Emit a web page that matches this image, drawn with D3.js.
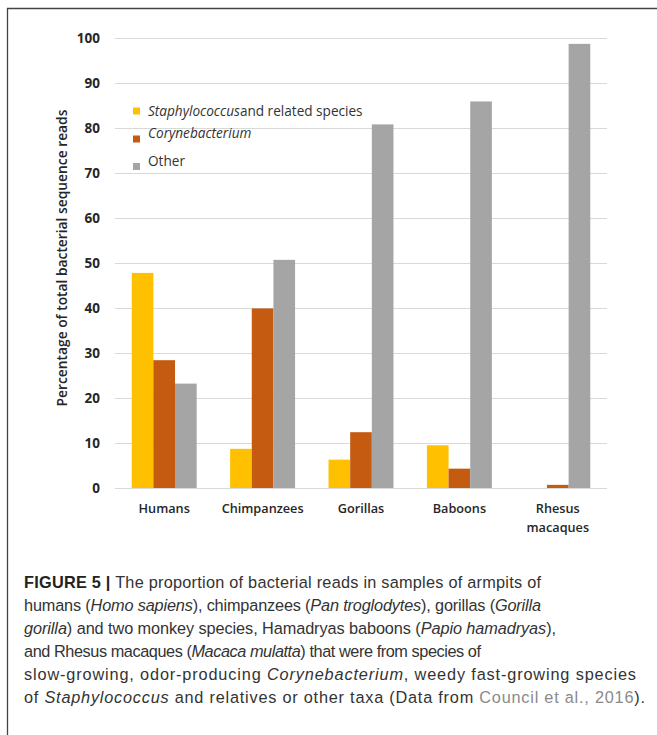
<!DOCTYPE html>
<html>
<head>
<meta charset="utf-8">
<script src="https://cdn.jsdelivr.net/npm/d3@7"></script>
<style>
  html, body { margin: 0; padding: 0; background: #fff; }
  svg { display: block; }
</style>
</head>
<body>
<svg id="chart" width="657" height="735"></svg>
<script>
// ---- data ----
const categories = ["Humans", "Chimpanzees", "Gorillas", "Baboons", "Rhesus macaques"];
const seriesNames = ["Staphylococcus", "Corynebacterium", "Other"];
const staphylococcus = [47.8, 8.7, 6.3, 9.5, 0];
const corynebacterium = [28.4, 39.9, 12.4, 4.3, 0.7];
const other = [23.2, 50.7, 80.8, 85.9, 98.7];
const yTicks = [0, 10, 20, 30, 40, 50, 60, 70, 80, 90, 100];
const colors = ["#FFC000", "#C55A11", "#A5A5A5"];

const seriesValues = [staphylococcus, corynebacterium, other];

const svg = d3.select("#chart");

// frame
svg.append("line").attr("x1", 7.5).attr("x2", 7.5).attr("y1", 8).attr("y2", 735)
  .attr("stroke", "#444").attr("stroke-width", 1.3);
svg.append("line").attr("x1", 7).attr("x2", 657).attr("y1", 8.5).attr("y2", 8.5)
  .attr("stroke", "#444").attr("stroke-width", 1.3);

const x = d3.scaleBand().domain(categories).range([115, 607])
  .paddingInner(0.34).paddingOuter(0.17);
const xs = d3.scaleBand().domain(seriesNames).range([0, x.bandwidth()]);
const y = d3.scaleLinear().domain([0, 100]).range([488, 38]);

// gridlines
svg.append("g").selectAll("line").data(yTicks).join("line")
  .attr("x1", 115).attr("x2", 607)
  .attr("y1", d => y(d) + 0.5).attr("y2", d => y(d) + 0.5)
  .attr("stroke", "#D9D9D9").attr("stroke-width", 1.2);

// y axis labels
const yAxis = d3.axisLeft(y).tickValues(yTicks).tickSize(0).tickPadding(0);
const ya = svg.append("g").attr("transform", "translate(100,0)").call(yAxis);
ya.select(".domain").remove();
ya.selectAll("text").attr("font-family", "'Open Sans', sans-serif")
  .attr("font-size", 13.5).attr("font-weight", 700).attr("fill", "#262626");

// y title
svg.append("text")
  .attr("transform", "translate(67,258) rotate(-90)")
  .attr("text-anchor", "middle")
  .attr("font-family", "'Open Sans', sans-serif")
  .attr("font-size", 13.8).attr("font-weight", 600).attr("fill", "#262626")
  .text("Percentage of total bacterial sequence reads");

// bars
const groups = svg.append("g").selectAll("g").data(categories).join("g")
  .attr("transform", d => `translate(${x(d)},0)`);
groups.selectAll("rect")
  .data((c, i) => seriesNames.map((s, j) => ({ s, j, v: seriesValues[j][i] })))
  .join("rect")
  .attr("x", d => xs(d.s))
  .attr("width", xs.bandwidth())
  .attr("y", d => y(d.v))
  .attr("height", d => y(0) - y(d.v))
  .attr("fill", d => colors[d.j]);

// x labels
const xl = svg.append("g").selectAll("text").data(categories).join("text")
  .attr("x", d => x(d) + x.bandwidth() / 2)
  .attr("y", 512.5)
  .attr("text-anchor", "middle")
  .attr("font-family", "'Open Sans', sans-serif")
  .attr("font-size", 12.7).attr("font-weight", 600).attr("fill", "#262626");
xl.each(function(d) {
  const parts = d === "Rhesus macaques" ? ["Rhesus", "macaques"] : [d];
  d3.select(this).selectAll("tspan").data(parts).join("tspan")
    .attr("x", x(d) + x.bandwidth() / 2)
    .attr("dy", (p, i) => i === 0 ? 0 : 19)
    .text(p => p);
});

// legend
const legendItems = [
  { parts: [["Staphylococcus", true], ["and related species", false]], sy: 111, ty: 115.5 },
  { parts: [["Corynebacterium", true]], sy: 139, ty: 138 },
  { parts: [["Other", false]], sy: 166.5, ty: 165.5 }
];
const lg = svg.append("g");
legendItems.forEach((it, i) => {
  lg.append("rect").attr("x", 133).attr("y", it.sy - 3.5).attr("width", 7).attr("height", 7)
    .attr("fill", colors[i]);
  const t = lg.append("text").attr("x", 148).attr("y", it.ty)
    .attr("font-family", "'Open Sans', sans-serif").attr("font-size", 13.6)
    .attr("fill", "#333");
  it.parts.forEach(([txt, ital]) => {
    t.append("tspan").attr("font-style", ital ? "italic" : "normal").text(txt);
  });
});

// caption
const caption = [
  [["FIGURE 5 |", "b"], [" The proportion of bacterial reads in samples of armpits of", "n"]],
  [["humans (", "n"], ["Homo sapiens", "i"], ["), chimpanzees (", "n"], ["Pan troglodytes", "i"], ["), gorillas (", "n"], ["Gorilla", "i"]],
  [["gorilla", "i"], [") and two monkey species, Hamadryas baboons (", "n"], ["Papio hamadryas", "i"], ["),", "n"]],
  [["and Rhesus macaques (", "n"], ["Macaca mulatta", "i"], [") that were from species of", "n"]],
  [["slow-growing, odor-producing ", "n"], ["Corynebacterium", "i"], [", weedy fast-growing species", "n"]],
  [["of ", "n"], ["Staphylococcus", "i"], [" and relatives or other taxa (Data from ", "n"], ["Council et al., 2016", "g"], [").", "n"]]
];
const captionEnds = [541, 541, 556, 481, 636, 645];
const capX = 24;
const cap = svg.append("g");
caption.forEach((line, i) => {
  const t = cap.append("text").attr("x", capX).attr("y", 588 + i * 23)
    .attr("font-family", "'Liberation Sans', Arial, sans-serif")
    .attr("font-size", 16.3).attr("fill", "#333")
    .attr("textLength", captionEnds[i] - capX)
    .attr("lengthAdjust", "spacing");
  line.forEach(([txt, st]) => {
    t.append("tspan")
      .attr("font-weight", st === "b" ? 700 : 400)
      .attr("font-style", st === "i" ? "italic" : "normal")
      .attr("fill", st === "g" ? "#8a8a8a" : (st === "b" ? "#222" : "#333"))
      .text(txt);
  });
});
</script>
</body>
</html>
